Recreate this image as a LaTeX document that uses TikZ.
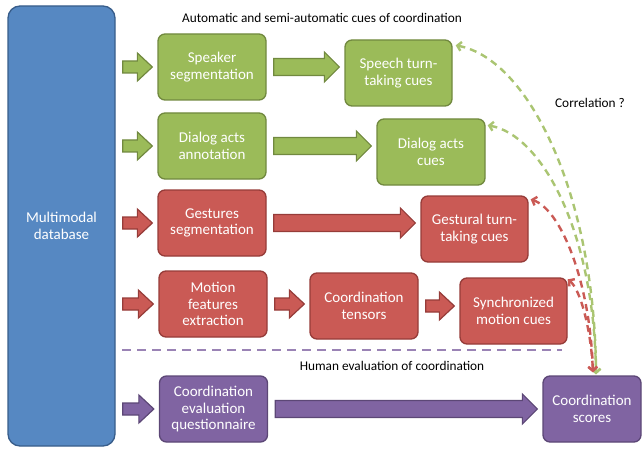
\documentclass[tikz,border=0pt]{standalone}
\usepackage{fontspec}
\setmainfont{Carlito}
\usetikzlibrary{calc,arrows.meta}
\definecolor{gfill}{RGB}{155,187,89}
\definecolor{gdraw}{RGB}{113,137,63}
\definecolor{rfill}{RGB}{202,90,85}
\definecolor{rdraw}{RGB}{150,60,57}
\definecolor{pfill}{RGB}{128,100,162}
\definecolor{pdraw}{RGB}{92,71,118}
\definecolor{bfill}{RGB}{86,136,194}
\definecolor{bdraw}{RGB}{56,93,138}
\tikzset{
  box/.style={rounded corners=7pt, line width=1.3pt, minimum width=108pt,
    minimum height=66pt, align=center, text=white, inner sep=2pt,
    font=\fontsize{15}{16.5}\selectfont},
  gbox/.style={box, fill=gfill, draw=gdraw},
  rbox/.style={box, fill=rfill, draw=rdraw},
  pbox/.style={box, fill=pfill, draw=pdraw},
  garr/.style={fill=gfill, draw=gdraw, line width=1.2pt, line join=miter},
  rarr/.style={fill=rfill, draw=rdraw, line width=1.2pt, line join=miter},
  parr/.style={fill=pfill, draw=pdraw, line width=1.2pt, line join=miter},
  corr/.style={dash pattern=on 7pt off 5pt, line width=2.4pt,
    {Straight Barb[length=4pt,width=9pt]}-{Straight Barb[length=4pt,width=9pt]}},
  label/.style={font=\fontsize{13.3}{15}\selectfont, text=black}
}
% #1 from, #2 to, #3 style, #4 shaft half height, #5 head half height
\newcommand{\blockarr}[5]{%
  \draw[#3] ($(#1)+(7,-#4)$) -- ($(#2)+(-20,-#4)$) -- ($(#2)+(-20,-#5)$)
    -- ($(#2)+(-5,0)$) -- ($(#2)+(-20,#5)$) -- ($(#2)+(-20,#4)$)
    -- ($(#1)+(7,#4)$) -- cycle;}
\begin{document}
\begin{tikzpicture}[x=1pt,y=-1pt]
\useasboundingbox (0,0) rectangle (644,449);
% database
\node[box, fill=bfill, draw=bdraw, minimum width=107pt, minimum height=440pt,
  rounded corners=12pt] (db) at (61.5,226) {Multimodal\\database};
% first column
\node[gbox] (spk) at (212,67) {Speaker\\segmentation};
\node[gbox] (dlg) at (212,146) {Dialog acts\\annotation};
\node[rbox] (ges) at (212,223) {Gestures\\segmentation};
\node[rbox] (mot) at (213,304) {Motion\\features\\extraction};
\node[pbox] (que) at (213.5,409) {Coordination\\evaluation\\questionnaire};
% outputs
\node[gbox, minimum width=107pt] (stc) at (398.5,73) {Speech turn-\\taking cues};
\node[gbox] (dac) at (431,152) {Dialog acts\\cues};
\node[rbox, minimum width=107pt] (gtc) at (474.5,229) {Gestural turn-\\taking cues};
\node[rbox] (ten) at (364,306) {Coordination\\tensors};
\node[rbox, minimum width=107pt] (syn) at (513.5,311) {Synchronized\\motion cues};
\node[pbox, minimum width=98pt] (sco) at (592,409) {Coordination\\scores};
% labels
\node[label] (t1) at (322,18) {Automatic and semi-automatic cues of coordination};
\node[label] (t2) at (590,103) {Correlation ?};
\node[label] (t3) at (392,366) {Human evaluation of coordination};
% small arrows from database
\blockarr{db.east |- spk.west}{spk.west}{garr}{6}{14}
\blockarr{db.east |- dlg.west}{dlg.west}{garr}{6}{14}
\blockarr{db.east |- ges.west}{ges.west}{rarr}{6}{14}
\blockarr{db.east |- mot.west}{mot.west}{rarr}{6}{14}
\blockarr{db.east |- que.west}{que.west}{parr}{6}{14}
% long arrows
\blockarr{spk.east}{stc.west |- spk.east}{garr}{8.5}{15}
\blockarr{dlg.east}{dac.west |- dlg.east}{garr}{8.5}{15}
\blockarr{ges.east}{gtc.west |- ges.east}{rarr}{8.5}{15}
\blockarr{mot.east}{ten.west |- mot.east}{rarr}{6}{14}
\blockarr{ten.east}{syn.west |- ten.east}{rarr}{6}{14}
\blockarr{que.east}{sco.west |- que.east}{parr}{8.5}{15}
% separator
\coordinate (sepA) at (122,350);
\coordinate (sepB) at (562,350);
\draw[pfill!80, line width=2.2pt, dash pattern=on 9pt off 6pt] (sepA) -- (sepB);
% correlation arrows
\draw[corr, gfill!85] ($(stc.north east)+(3,6)$) .. controls +(75,14) and +(-1,-175) .. ($(sco.north)+(4,-1)$);
\draw[corr, gfill!85] ($(dac.north east)+(2,7)$) .. controls +(53,9) and +(-2,-145) .. ($(sco.north)+(4,-1)$);
\draw[corr, rfill] ($(gtc.north east)+(2,4)$) .. controls +(30,10) and +(-3,-92) .. ($(sco.north)+(1,-3)$);
\draw[corr, rfill] ($(syn.north east)+(0,2)$) .. controls +(13,10) and +(-2,-42) .. ($(sco.north)+(1,-3)$);
\end{tikzpicture}
\end{document}
